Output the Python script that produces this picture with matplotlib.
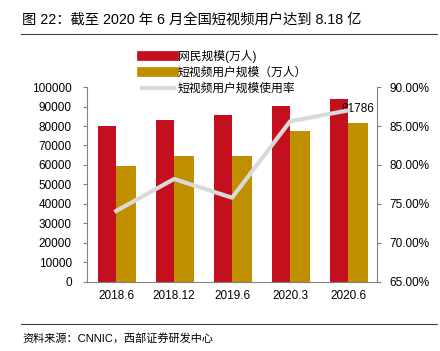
import matplotlib.pyplot as plt
from matplotlib.lines import Line2D
from matplotlib.ticker import FuncFormatter, MultipleLocator

plt.rcParams["font.family"] = ["Liberation Sans", "Noto Sans CJK SC"]

categories = ["2018.6", "2018.12", "2019.6", "2020.3", "2020.6"]
netizens = [80166, 82851, 85449, 90359, 93984]
video_users = [59362, 64798, 64764, 77325, 81786]
usage_rate = [74.1, 78.2, 75.8, 85.6, 87.0]

RED = "#c40f1f"
GOLD = "#bf8f00"
LINE = "#d9d9d9"

fig = plt.figure(figsize=(4.4, 3.51), dpi=100)
ax = fig.add_axes([0.198, 0.197, 0.659, 0.555])
x = list(range(len(categories)))

ax.bar([i - 0.16 for i in x], netizens, width=0.32, color=RED, zorder=2)
ax.bar([i + 0.17 for i in x], video_users, width=0.34, color=GOLD, zorder=3)
ax.text(x[-1] + 0.17, video_users[-1] + 4000, f"{video_users[-1]}",
        ha="center", va="bottom", fontsize=8.5, zorder=6)

ax.set_xlim(-0.5, len(categories) - 0.5)
ax.set_ylim(0, 100000)
ax.yaxis.set_major_locator(MultipleLocator(10000))
ax.set_xticks(x)
ax.set_xticklabels(categories, fontsize=8.5)
ax.tick_params(axis="x", length=0, pad=6)
ax.tick_params(axis="y", labelsize=8.5, length=3, color="#808080", pad=8)

ax2 = ax.twinx()
ax2.plot(x, usage_rate, color=LINE, lw=3, zorder=5)
ax2.set_ylim(65, 90)
ax2.yaxis.set_major_locator(MultipleLocator(5))
ax2.yaxis.set_major_formatter(FuncFormatter(lambda v, p: f"{v:.2f}%"))
ax2.tick_params(axis="y", labelsize=8.5, length=3, color="#808080", pad=6)

for a in (ax, ax2):
    a.spines["top"].set_visible(False)
    for side in ("left", "right", "bottom"):
        a.spines[side].set_color("#808080")
        a.spines[side].set_linewidth(0.8)
ax.spines["right"].set_visible(False)
ax2.spines["left"].set_visible(False)
ax2.spines["bottom"].set_visible(False)

handles = [
    Line2D([0], [0], color=RED, lw=7, label="网民规模(万人)"),
    Line2D([0], [0], color=GOLD, lw=7, label="短视频用户规模（万人）"),
    Line2D([0], [0], color=LINE, lw=3, label="短视频用户规模使用率"),
]
fig.legend(handles=handles, loc="upper left", bbox_to_anchor=(0.31, 0.875),
           frameon=False, fontsize=8.5, handlelength=2.7, handletextpad=0.3,
           labelspacing=0.35, borderpad=0)

fig.text(0.05, 0.943, "图 22：截至 2020 年 6 月全国短视频用户达到 8.18 亿",
         fontsize=10.3, va="center", ha="left")
fig.add_artist(Line2D([0.047, 0.993], [0.903, 0.903], color="#404040", lw=0.8))
fig.add_artist(Line2D([0.047, 0.993], [0.078, 0.078], color="#404040", lw=0.8))
fig.text(0.05, 0.037, "资料来源：CNNIC，西部证券研发中心", fontsize=8,
         va="center", ha="left")

fig.savefig("out.png", dpi=100)
